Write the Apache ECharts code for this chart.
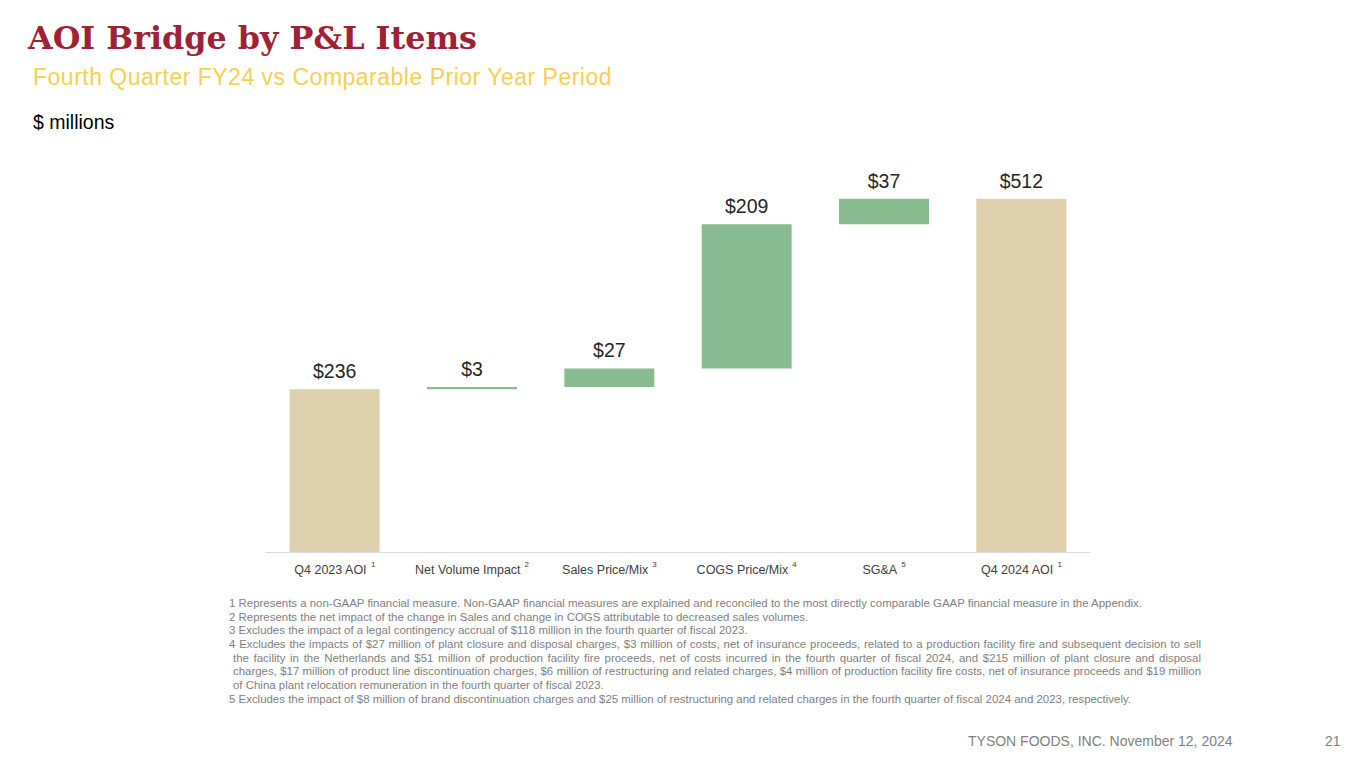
<!DOCTYPE html>
<html>
<head>
<meta charset="utf-8">
<script src="https://cdn.jsdelivr.net/npm/echarts@6/dist/echarts.min.js"></script>
<style>
  html, body { margin:0; padding:0; width:1365px; height:768px; background:#fff; overflow:hidden; }
  #page { position:relative; width:1365px; height:768px; }
  #chart { position:absolute; left:0; top:0; width:1365px; height:768px; }
  .title { position:absolute; left:28px; top:19px; font-family:"DejaVu Serif","Liberation Serif",serif; font-weight:bold; font-size:31.8px; color:#9e2236; white-space:nowrap; }
  .subtitle { position:absolute; left:33px; top:64px; font-family:"Liberation Sans",Arial,sans-serif; font-size:23px; color:#f6d050; letter-spacing:0.5px; white-space:nowrap; }
  .units { position:absolute; left:33px; top:111px; font-family:"Liberation Sans",Arial,sans-serif; font-size:19.5px; color:#000; white-space:nowrap; }
  .notes { position:absolute; left:229px; top:597px; width:972px; font-family:"Liberation Sans",Arial,sans-serif; font-size:11.45px; line-height:13.65px; color:#808080; }
  .notes div { white-space:nowrap; }
  .notes .j { text-align:justify; text-align-last:justify; white-space:normal; }
  .notes .ind { padding-left:4px; }
  .footer { position:absolute; left:968px; top:733px; font-family:"Liberation Sans",Arial,sans-serif; font-size:14px; color:#7f7f7f; white-space:nowrap; }
  .pageno { position:absolute; left:1325px; top:733px; font-family:"Liberation Sans",Arial,sans-serif; font-size:14px; color:#7f7f7f; }
</style>
</head>
<body>
<div id="page">
  <div id="chart"></div>
  <div class="title">AOI Bridge by P&amp;L Items</div>
  <div class="subtitle">Fourth Quarter FY24 vs Comparable Prior Year Period</div>
  <div class="units">$ millions</div>
  <div class="notes">
    <div>1 Represents a non-GAAP financial measure. Non-GAAP financial measures are explained and reconciled to the most directly comparable GAAP financial measure in the Appendix.</div>
    <div>2 Represents the net impact of the change in Sales and change in COGS attributable to decreased sales volumes.</div>
    <div>3 Excludes the impact of a legal contingency accrual of $118 million in the fourth quarter of fiscal 2023.</div>
    <div class="j">4 Excludes the impacts of $27 million of plant closure and disposal charges, $3 million of costs, net of insurance proceeds, related to a production facility fire and subsequent decision to sell</div>
    <div class="j ind">the facility in the Netherlands and $51 million of production facility fire proceeds, net of costs incurred in the fourth quarter of fiscal 2024, and $215 million of plant closure and disposal</div>
    <div class="j ind">charges, $17 million of product line discontinuation charges, $6 million of restructuring and related charges, $4 million of production facility fire costs, net of insurance proceeds and $19 million</div>
    <div class="ind">of China plant relocation remuneration in the fourth quarter of fiscal 2023.</div>
    <div>5 Excludes the impact of $8 million of brand discontinuation charges and $25 million of restructuring and related charges in the fourth quarter of fiscal 2024 and 2023, respectively.</div>
  </div>
  <div class="footer">TYSON FOODS, INC. November 12, 2024</div>
  <div class="pageno">21</div>
</div>
<script>
const categories = ['Q4 2023 AOI', 'Net Volume Impact', 'Sales Price/Mix', 'COGS Price/Mix', 'SG&A', 'Q4 2024 AOI'];
const footnoteMarks = ['1', '2', '3', '4', '5', '1'];
const values = [236, 3, 27, 209, 37, 512];
const isTotal = [true, false, false, false, false, true];

const totalColor = '#dfd0ae';
const deltaColor = '#88bb8f';

// build waterfall base (invisible) + visible bars
const base = [];
let running = 0;
values.forEach((v, i) => {
  if (isTotal[i]) { base.push(0); running = v; }
  else { base.push(running); running += v; }
});

const labelFont = '"Liberation Sans",Arial,sans-serif';
const chart = echarts.init(document.getElementById('chart'), null, { renderer: 'svg' });
chart.setOption({
  animation: false,
  grid: { left: 266, right: 275, top: 138, bottom: 216 },
  xAxis: {
    type: 'category',
    data: categories,
    axisLine: { lineStyle: { color: '#d9d9d9', width: 1 } },
    axisTick: { show: false },
    axisLabel: {
      margin: 8,
      interval: 0,
      formatter: (v, i) => '{a|' + v + '}{s|' + footnoteMarks[i] + '}',
      rich: {
        a: { fontFamily: labelFont, fontSize: 12.5, color: '#404040', lineHeight: 16, verticalAlign: 'bottom' },
        s: { fontFamily: labelFont, fontSize: 8, color: '#404040', lineHeight: 16, verticalAlign: 'top', padding: [0, 0, 3, 4] }
      }
    }
  },
  yAxis: { type: 'value', min: 0, max: 600, show: false, splitLine: { show: false } },
  series: [
    {
      type: 'bar', stack: 'w', data: base, barWidth: '65.5%',
      itemStyle: { color: 'transparent' }, silent: true
    },
    {
      type: 'bar', stack: 'w', barWidth: '65.5%',
      data: values.map((v, i) => ({ value: v, itemStyle: { color: isTotal[i] ? totalColor : deltaColor } })),
      label: {
        show: true, position: 'top', distance: 8,
        formatter: p => '$' + p.value,
        fontFamily: labelFont,
        fontSize: 19.5, color: '#262626'
      }
    }
  ]
});
</script>
</body>
</html>
